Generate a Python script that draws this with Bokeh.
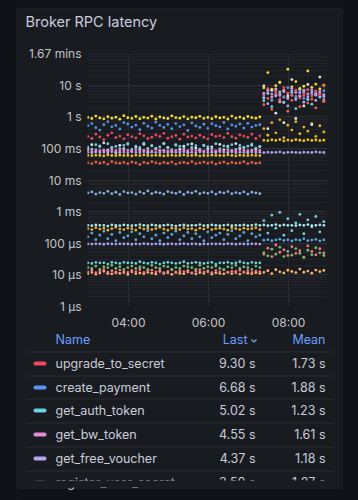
import pandas as pd
from bokeh.plotting import figure
from bokeh.layouts import column, row
from bokeh.models import Range1d, FixedTicker, DatetimeTickFormatter, ColumnDataSource
from bokeh.core.properties import value
from bokeh.embed import file_html
from bokeh.resources import INLINE

# ---------------- data (latency values in milliseconds) ----------------
times = pd.date_range("2024-01-01 02:59", periods=60, freq="6min")

upgrade_to_secret = [240, 205, 280, 230, 190, 260, 310, 220, 245, 200, 270, 235, 215, 290, 250, 205, 225, 265, 240, 300,
                     210, 235, 255, 195, 280, 230, 245, 215, 260, 225, 200, 275, 240, 250, 220, 295, 235, 210, 265, 245,
                     225, 280, 205, 250,
                     5200, 7800, 4300, 6100, 3600, 8400, 5600, 4700, 6900, 3900, 5400, 7200, 4500, 6300, 5000, 9300]
create_payment = [520, 610, 450, 380, 560, 700, 480, 530, 410, 650, 590, 470, 540, 390, 620, 500, 440, 680, 530, 460,
                  570, 420, 610, 490, 550, 370, 640, 510, 460, 580, 430, 600, 520, 480, 660, 410, 550, 500, 590, 440,
                  620, 470, 530, 560,
                  4800, 6900, 3500, 7600, 5200, 4100, 8300, 5900, 4400, 6500, 3800, 7100, 5600, 4900, 6200, 6680]
get_auth_token = [110, 95, 130, 120, 88, 140, 105, 115, 98, 125, 135, 92, 118, 108, 145, 100, 122, 96, 112, 138,
                  104, 90, 128, 116, 99, 133, 107, 121, 94, 126, 113, 102, 140, 97, 119, 109, 131, 93, 124, 106,
                  117, 136, 101, 114,
                  3200, 5400, 2100, 4600, 6100, 2800, 3900, 5800, 1800, 4400, 6600, 3500, 2500, 5100, 4200, 5020]
get_bw_token = [86, 82, 90, 84, 88, 80, 92, 85, 83, 89, 87, 81, 91, 84, 86, 88, 82, 93, 85, 87,
                83, 90, 86, 81, 89, 84, 92, 85, 88, 82, 87, 91, 84, 86, 80, 89, 85, 83, 90, 87,
                84, 88, 82, 86,
                5600, 6800, 4200, 7400, 5100, 6300, 3800, 7900, 5800, 4600, 6900, 5300, 7200, 4800, 6100, 4550]
get_free_voucher = [75, 73, 77, 74, 76, 72, 78, 75, 74, 76, 73, 77, 75, 74, 78, 72, 76, 75, 73, 77,
                    74, 76, 75, 73, 78, 74, 76, 72, 77, 75, 74, 76, 73, 78, 75, 74, 77, 73, 76, 75,
                    72, 77, 74, 76,
                    3900, 2600, 5200, 4600, 3100, 6400, 2200, 4800, 3500, 5700, 2900, 4300, 6100, 3300, 5000, 4370]
register_user_secret = [3.9, 4.2, 3.6, 4.0, 3.8, 4.4, 3.7, 4.1, 3.5, 4.3, 3.9, 4.0, 3.6, 4.2, 3.8, 4.5, 3.7, 4.1, 3.9, 3.6,
                        4.3, 4.0, 3.8, 4.2, 3.5, 4.1, 3.9, 4.4, 3.7, 4.0, 3.8, 4.2, 3.6, 4.1, 3.9, 4.3, 3.7, 4.0, 3.8, 4.2,
                        3.6, 4.1, 3.9, 3.7,
                        4100, 5600, 3300, 6200, 4700, 2900, 5300, 6800, 3800, 4400, 5900, 3600, 5000, 6500, 4200, 3500]
get_secret = [950, 880, 1050, 920, 860, 1000, 900, 970, 840, 1080, 930, 890, 1020, 870, 960, 910, 1040, 850, 990, 920,
              880, 1060, 940, 900, 1010, 860, 970, 930, 1030, 890, 950, 870, 1000, 920, 960, 850, 1050, 910, 980, 880,
              1020, 940, 900, 990,
              8200, 25000, 7400, 9600, 12500, 6800, 32000, 8800, 13000, 7900, 9200, 28000, 8500, 10800, 7600, 9900]
list_vouchers = [60, 59, 61, 60, 58, 62, 60, 59, 61, 60, 60, 58, 61, 59, 62, 60, 59, 61, 60, 58,
                 60, 61, 59, 60, 62, 59, 60, 61, 58, 60, 59, 61, 60, 60, 59, 62, 60, 58, 61, 60,
                 59, 61, 60, 59,
                 180, 175, 185, 178, 190, 172, 183, 177, 188, 181, 174, 186, 179, 184, 176, 182]
redeem_voucher = [35, 33, 37, 34, 36, 32, 38, 35, 34, 36, 33, 37, 35, 31, 36, 34, 38, 35, 33, 36,
                  34, 37, 32, 35, 36, 34, 38, 33, 35, 37, 34, 36, 32, 35, 37, 33, 36, 34, 35, 38,
                  33, 36, 34, 35,
                  2400, 3800, 1700, 5200, 2900, 4300, 1500, 3300, 6100, 2100, 4700, 2700, 3600, 1900, 5500, 3100]
ping = [95, 130, 78, 115, 150, 88, 105, 72, 125, 98, 140, 82, 110, 92, 135, 76, 120, 100, 85, 145,
        108, 80, 128, 93, 117, 74, 138, 102, 87, 123, 96, 112, 79, 133, 90, 118, 84, 142, 99, 107,
        77, 126, 94, 113,
        9500, 420, 6800, 1300, 12000, 650, 4500, 15000, 880, 7300, 2200, 10500, 560, 5400, 18000, 3100]
health_check = [0.37, 0.36, 0.38, 0.37, 0.37, 0.35, 0.38, 0.37, 0.36, 0.38, 0.37, 0.36, 0.37, 0.39, 0.37, 0.36, 0.38,
                0.37, 0.36, 0.37, 0.38, 0.37, 0.35, 0.37, 0.38, 0.36, 0.37, 0.37, 0.39, 0.36, 0.37, 0.38, 0.37, 0.36,
                0.37, 0.38, 0.36, 0.37, 0.37, 0.38, 0.36, 0.37, 0.39, 0.37,
                0.38, 0.36, 0.37, 0.39, 0.36, 0.38, 0.37, 0.37, 0.36, 0.38, 0.37, 0.39, 0.36, 0.37, 0.38, 0.37]
get_config = [0.29, 0.27, 0.31, 0.28, 0.30, 0.26, 0.29, 0.32, 0.28, 0.27, 0.30, 0.29, 0.26, 0.31, 0.28, 0.30, 0.27,
              0.29, 0.32, 0.28, 0.26, 0.30, 0.29, 0.27, 0.31, 0.28, 0.29, 0.26, 0.30, 0.28, 0.32, 0.27, 0.29, 0.30,
              0.28, 0.26, 0.31, 0.29, 0.27, 0.30, 0.28, 0.29, 0.31, 0.27,
              420, 260, 650, 310, 800, 220, 540, 380, 700, 290, 470, 350, 610, 240, 520, 330]
validate_session = [0.16, 0.21, 0.13, 0.18, 0.24, 0.14, 0.19, 0.12, 0.22, 0.15, 0.17, 0.23, 0.13, 0.20, 0.16, 0.25,
                    0.14, 0.18, 0.12, 0.21, 0.15, 0.19, 0.24, 0.13, 0.17, 0.22, 0.14, 0.20, 0.16, 0.12, 0.23, 0.15,
                    0.18, 0.21, 0.13, 0.19, 0.25, 0.14, 0.17, 0.22, 0.12, 0.20, 0.16, 0.18,
                    0.125, 0.130, 0.120, 0.127, 0.135, 0.122, 0.128, 0.118, 0.130, 0.125, 0.140, 0.121, 0.126, 0.132,
                    0.119, 0.127]
refresh_token = [0.095, 0.094, 0.096, 0.095, 0.093, 0.097, 0.095, 0.094, 0.096, 0.095, 0.095, 0.093, 0.096, 0.094,
                 0.097, 0.095, 0.094, 0.096, 0.095, 0.093, 0.095, 0.096, 0.094, 0.095, 0.097, 0.094, 0.095, 0.096,
                 0.093, 0.095, 0.094, 0.096, 0.095, 0.095, 0.094, 0.097, 0.095, 0.093, 0.096, 0.095, 0.094, 0.096,
                 0.095, 0.094,
                 73, 76, 74, 75, 77, 72, 75, 76, 74, 73, 76, 75, 74, 77, 75, 74]
get_profile = [0.024, 0.023, 0.025, 0.024, 0.024, 0.022, 0.025, 0.024, 0.023, 0.025, 0.024, 0.024, 0.023, 0.026,
               0.024, 0.023, 0.025, 0.024, 0.022, 0.024, 0.025, 0.024, 0.023, 0.024, 0.026, 0.023, 0.024, 0.025,
               0.024, 0.023, 0.024, 0.025, 0.022, 0.024, 0.024, 0.025, 0.023, 0.024, 0.026, 0.024, 0.023, 0.025,
               0.024, 0.024,
               0.52, 0.21, 0.78, 0.30, 0.95, 0.18, 0.60, 0.25, 0.44, 0.82, 0.20, 0.55, 0.33, 0.70, 0.23, 0.48]
log_event = [0.017, 0.016, 0.019, 0.015, 0.018, 0.017, 0.020, 0.016, 0.018, 0.015, 0.017, 0.019, 0.016, 0.018,
             0.017, 0.015, 0.020, 0.017, 0.016, 0.019, 0.018, 0.015, 0.017, 0.016, 0.019, 0.018, 0.017, 0.015,
             0.020, 0.016, 0.018, 0.017, 0.019, 0.016, 0.015, 0.018, 0.017, 0.020, 0.016, 0.018, 0.017, 0.015,
             0.019, 0.017,
             0.050, 0.040, 0.065, 0.045, 0.075, 0.038, 0.055, 0.042, 0.068, 0.048, 0.036, 0.060, 0.044, 0.072,
             0.050, 0.041]
track_usage = [0.0110, 0.0120, 0.0105, 0.0115, 0.0130, 0.0110, 0.0108, 0.0122, 0.0112, 0.0118, 0.0103, 0.0125,
               0.0110, 0.0115, 0.0108, 0.0120, 0.0113, 0.0106, 0.0128, 0.0111, 0.0117, 0.0104, 0.0121, 0.0112,
               0.0109, 0.0124, 0.0114, 0.0107, 0.0119, 0.0111, 0.0126, 0.0105, 0.0116, 0.0112, 0.0108, 0.0122,
               0.0110, 0.0118, 0.0106, 0.0123, 0.0113, 0.0109, 0.0117, 0.0112,
               0.0120, 0.0135, 0.0110, 0.0145, 0.0125, 0.0115, 0.0140, 0.0128, 0.0118, 0.0152, 0.0122, 0.0132,
               0.0113, 0.0142, 0.0126, 0.0138]
audit_log = [0.0125, 0.0140, 0.0118, 0.0130, 0.0145, 0.0122, 0.0135, 0.0115, 0.0142, 0.0128, 0.0120, 0.0138,
             0.0126, 0.0148, 0.0119, 0.0132, 0.0141, 0.0124, 0.0136, 0.0117, 0.0129, 0.0144, 0.0121, 0.0133,
             0.0127, 0.0139, 0.0116, 0.0131, 0.0146, 0.0123, 0.0134, 0.0118, 0.0137, 0.0125, 0.0143, 0.0120,
             0.0130, 0.0128, 0.0140, 0.0122, 0.0135, 0.0119, 0.0132, 0.0126,
             0.045, 0.070, 0.038, 0.088, 0.052, 0.062, 0.041, 0.078, 0.048, 0.058, 0.036, 0.082, 0.055, 0.043,
             0.067, 0.050]

# draw order (first drawn = bottom) : name, values, colour
series = [
    ("track_usage", track_usage, "#ffb36b"),
    ("audit_log", audit_log, "#ff7383"),
    ("log_event", log_event, "#73bf69"),
    ("get_profile", get_profile, "#6fd3e2"),
    ("refresh_token", refresh_token, "#ad9ff0"),
    ("validate_session", validate_session, "#5ca8e0"),
    ("get_config", get_config, "#e8b32a"),
    ("health_check", health_check, "#a9e6ec"),
    ("register_user_secret", register_user_secret, "#8fb0e0"),
    ("ping", ping, "#e6e6ea"),
    ("redeem_voucher", redeem_voucher, "#f2603e"),
    ("list_vouchers", list_vouchers, "#f5c518"),
    ("get_secret", get_secret, "#fade2a"),
    ("create_payment", create_payment, "#5794f2"),
    ("get_auth_token", get_auth_token, "#6ed0e0"),
    ("get_free_voucher", get_free_voucher, "#b8a6f5"),
    ("upgrade_to_secret", upgrade_to_secret, "#f2495c"),
    ("get_bw_token", get_bw_token, "#e58ad6"),
]

# legend table (as shown in the panel)
legend_names = ["upgrade_to_secret", "create_payment", "get_auth_token", "get_bw_token",
                "get_free_voucher", "register_user_secret"]
legend_colors = ["#f2495c", "#5794f2", "#6ed0e0", "#e58ad6", "#b8a6f5", "#9aa3ad"]
legend_last = ["9.30 s", "6.68 s", "5.02 s", "4.55 s", "4.37 s", "3.50 s"]
legend_mean = ["1.73 s", "1.88 s", "1.23 s", "1.61 s", "1.18 s", "1.27 s"]
legend_headers = ["Name", "Last", "Mean"]
panel_title = "Broker RPC latency"

y_ticks = [0.001, 0.01, 0.1, 1, 10, 100, 1000, 10000, 100000]
y_tick_labels = ["1 µs", "10 µs", "100 µs", "1 ms", "10 ms", "100 ms", "1 s", "10 s", "1.67 mins"]
x_tick_times = ["2024-01-01 04:00", "2024-01-01 06:00", "2024-01-01 08:00"]
x_tick_labels = ["04:00", "06:00", "08:00"]

# ---------------- styling constants ----------------
OUTER = "#111217"
PANEL = "#181b1f"
BORDER = "#222428"
TEXT = "#ccccdc"
AXIS_TEXT = "#c2c4cc"
HEAD = "#6e9fff"
GRID = "#2a2d33"
GRID_MINOR = "#212328"
SEP = "#2a2d33"
FONT = "Inter"

W, H = 358, 500
PX0, PX1, PY0, PY1 = 16, 342, 8, 488      # panel box on the page
SIDE = 17                                   # side strips (full height)
MID_W = W - 2 * SIDE                        # 324, middle column x 17..341
TOP_H = 36                                  # rows 0..36
CHART_H = 296                               # rows 36..332
BOT_H = H - TOP_H - CHART_H                 # rows 332..500


def ms(t):
    return pd.Timestamp(t).value // 10**6


def no_align(f):
    # keep every frame where it was put (no frame alignment between neighbouring plots)
    if "frame_align" in f.properties():
        f.frame_align = False
    return f


def deco(width, height, x0, x1, y0, y1, fill):
    """A plain figure whose frame is the whole canvas, in page pixel coordinates."""
    f = figure(width=width, height=height, x_range=Range1d(x0, x1), y_range=Range1d(y1, y0),
               output_backend="svg", toolbar_location=None, min_border=0,
               x_axis_location=None, y_axis_location=None,
               background_fill_color=fill, border_fill_color=fill, outline_line_color=None)
    f.grid.visible = False
    return no_align(f)


# ---------------- side strips (page margin + panel edge) ----------------
left = deco(SIDE, H, 0, SIDE, 0, H, OUTER)
left.quad(left=[PX0], right=[SIDE + 2], top=[PY0], bottom=[PY1], fill_color=PANEL, line_color=None)
left.segment(x0=[PX0 + 0.5, PX0 + 0.5, PX0 + 0.5], y0=[PY0 + 0.5, PY0 + 0.5, PY1 - 0.5],
             x1=[PX0 + 0.5, SIDE + 2, SIDE + 2], y1=[PY1 - 0.5, PY0 + 0.5, PY1 - 0.5],
             line_color=BORDER, line_width=1)
right = deco(SIDE, H, W - SIDE, W, 0, H, OUTER)
right.quad(left=[W - SIDE - 2], right=[PX1], top=[PY0], bottom=[PY1], fill_color=PANEL, line_color=None)
right.segment(x0=[PX1 - 0.5, W - SIDE - 2, W - SIDE - 2], y0=[PY0 + 0.5, PY0 + 0.5, PY1 - 0.5],
              x1=[PX1 - 0.5, PX1 - 0.5, PX1 - 0.5], y1=[PY1 - 0.5, PY0 + 0.5, PY1 - 0.5],
              line_color=BORDER, line_width=1)

# ---------------- top: panel top edge + title ----------------
top = deco(MID_W, TOP_H, SIDE, W - SIDE, 0, TOP_H, PANEL)
top.quad(left=[SIDE - 2], right=[W - SIDE + 2], top=[-2], bottom=[PY0], fill_color=OUTER, line_color=None)
top.segment(x0=[SIDE - 2], y0=[PY0 + 0.5], x1=[W - SIDE + 2], y1=[PY0 + 0.5], line_color=BORDER, line_width=1)
top.text(x=[25], y=[21], text=[panel_title], text_color=TEXT, text_font=value(FONT), text_font_size="14.5px",
         text_baseline="middle", text_align="left")

# ---------------- chart ----------------
x_start = ms("2024-01-01 02:58:30")
x_end = ms("2024-01-01 08:58:30")

p = figure(width=MID_W, height=CHART_H, x_axis_type="datetime", y_axis_type="log",
           x_range=Range1d(x_start, x_end), y_range=Range1d(0.001, 100000),
           output_backend="svg", toolbar_location=None,
           min_border_left=87 - SIDE, min_border_right=W - SIDE - 327,
           min_border_top=53 - TOP_H, min_border_bottom=TOP_H + CHART_H - 306,
           background_fill_color=PANEL, border_fill_color=PANEL, outline_line_color=None)
no_align(p)

minor = [m * t for t in y_ticks[:-1] for m in range(2, 10)]
yt = FixedTicker(ticks=y_ticks, minor_ticks=minor)
p.yaxis.ticker = yt
p.ygrid.ticker = yt
p.yaxis.major_label_overrides = {t: l for t, l in zip(y_ticks, y_tick_labels)}
xt_vals = [ms(t) for t in x_tick_times]
xt = FixedTicker(ticks=xt_vals, minor_ticks=[])
p.xaxis.ticker = xt
p.xgrid.ticker = xt
p.xaxis.formatter = DatetimeTickFormatter(hours="%H:%M", hourmin="%H:%M", minutes="%H:%M")
p.xaxis.major_label_overrides = {t: l for t, l in zip(xt_vals, x_tick_labels)}

for ax in (p.xaxis, p.yaxis):
    ax.axis_line_color = None
    ax.major_tick_line_color = None
    ax.minor_tick_line_color = None
    ax.major_tick_out = 0
    ax.major_tick_in = 0
    ax.minor_tick_out = 0
    ax.minor_tick_in = 0
    ax.major_label_text_color = AXIS_TEXT
    ax.major_label_text_font = FONT
    ax.major_label_text_font_size = "12px"
p.yaxis.major_label_standoff = 6
p.xaxis.major_label_standoff = 8

p.ygrid.grid_line_color = GRID
p.ygrid.minor_grid_line_color = GRID_MINOR
p.xgrid.grid_line_color = GRID

for name, vals, col in series:
    src = ColumnDataSource(dict(t=times, v=vals))
    p.scatter("t", "v", source=src, size=2.8, fill_color=col, line_color=None, marker="circle")

# ---------------- bottom: legend table + panel bottom edge ----------------
y0b = TOP_H + CHART_H
bot = deco(MID_W, BOT_H, SIDE, W - SIDE, y0b, H, PANEL)
bot.quad(left=[SIDE - 2], right=[W - SIDE + 2], top=[PY1], bottom=[H + 2], fill_color=OUTER, line_color=None)
bot.segment(x0=[SIDE - 2], y0=[PY1 - 0.5], x1=[W - SIDE + 2], y1=[PY1 - 0.5], line_color=BORDER, line_width=1)

head_y = 339
bot.text(x=[55, 247, 325], y=[head_y] * 3, text=legend_headers, text_color=HEAD, text_font=value(FONT),
         text_font_size="12.5px", text_baseline="middle", text_align=["left", "right", "right"])
bot.line(x=[251, 253.5, 256], y=[339, 341.5, 339], line_color=HEAD, line_width=1.2)

sep_ys = [351.5, 375.5, 398.5, 422.5, 446.5, 470.5]
bot.segment(x0=[25] * len(sep_ys), x1=[334] * len(sep_ys), y0=sep_ys, y1=sep_ys, line_color=SEP, line_width=1)

row_ys = [363, 387, 410, 434, 458, 482]
bot.segment(x0=[35] * 6, x1=[44] * 6, y0=row_ys, y1=row_ys, line_color=legend_colors, line_width=4,
            line_cap="round")
bot.text(x=[55] * 6, y=row_ys, text=legend_names, text_color=TEXT, text_font=value(FONT),
         text_font_size="12.5px", text_baseline="middle", text_align="left")
bot.text(x=[255] * 6, y=row_ys, text=legend_last, text_color=TEXT, text_font=value(FONT),
         text_font_size="12.5px", text_baseline="middle", text_align="right")
bot.text(x=[325] * 6, y=row_ys, text=legend_mean, text_color=TEXT, text_font=value(FONT),
         text_font_size="12.5px", text_baseline="middle", text_align="right")
# scroll clip of the legend list
bot.quad(left=[SIDE - 2], right=[W - SIDE + 2], top=[480], bottom=[PY1 - 1], fill_color=PANEL, line_color=None)

# the chart sits in its own row so the column never lines its frame up with the decorations
middle = column(top, row(p, spacing=0), bot, spacing=0, styles={"background-color": PANEL})
layout = row(left, middle, right, spacing=0, styles={"background-color": OUTER})

open("out.html", "w").write(file_html(layout, INLINE))
